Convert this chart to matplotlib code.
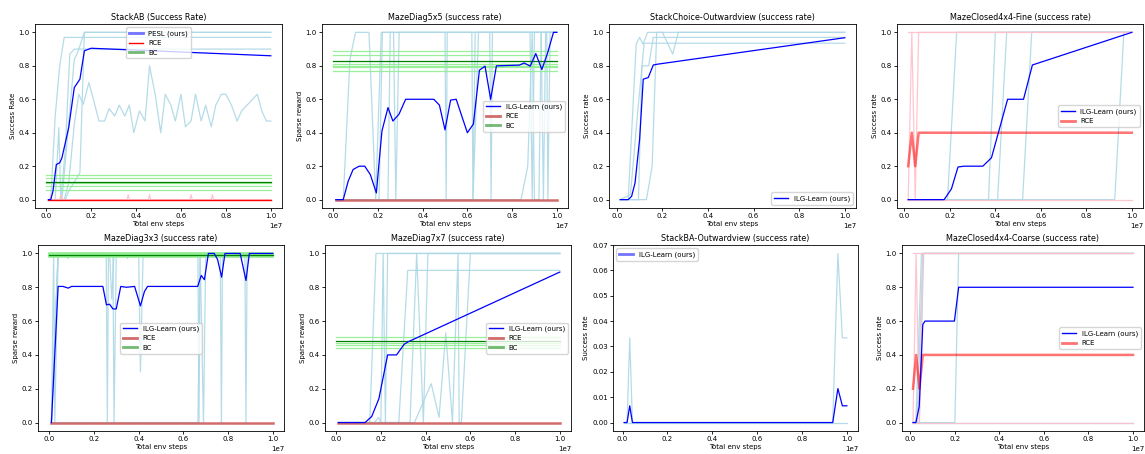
import matplotlib
matplotlib.use("Agg")
import matplotlib.pyplot as plt
from matplotlib.lines import Line2D

STEPS = 1e7  # x values below are in units of 1e7 env steps

# ---- StackAB ----
ab_mean_x = [0.01, 0.02, 0.03, 0.045, 0.06, 0.07, 0.1, 0.125, 0.15, 0.17, 0.2, 1.0]
ab_mean_y = [0, 0, 0.05, 0.21, 0.22, 0.25, 0.43, 0.67, 0.72, 0.89, 0.905, 0.86]
ab_seeds = [
    ([0.01, 0.02, 0.04, 0.06, 0.08, 1.0], [0, 0, 0.5, 0.8, 0.97, 0.97]),
    ([0.01, 0.04, 0.056, 0.065, 0.085, 0.105, 0.125, 1.0], [0, 0, 0.43, 0, 0.3, 0.87, 0.9, 0.9]),
    ([0.01, 0.07, 0.09, 0.125, 0.14, 0.17, 1.0], [0, 0, 0.3, 0.84, 0.88, 1.0, 1.0]),
    ([0.01, 0.06, 0.085, 0.1, 0.15, 0.17, 1.0], [0, 0, 0, 0.05, 0.16, 1.0, 1.0]),
    ([0.01, 0.08, 0.1, 0.125, 0.145, 0.165, 0.19, 0.21, 0.235, 0.26, 0.28, 0.305, 0.325, 0.35,
      0.37, 0.39, 0.415, 0.44, 0.46, 0.485, 0.51, 0.53, 0.555, 0.575, 0.6, 0.62, 0.645, 0.665,
      0.69, 0.71, 0.735, 0.755, 0.78, 0.8, 0.825, 0.85, 0.87, 0.94, 0.96, 0.98, 1.0],
     [0, 0, 0.1, 0.45, 0.63, 0.57, 0.70, 0.6, 0.47, 0.47, 0.545, 0.5, 0.565, 0.5,
      0.565, 0.4, 0.53, 0.47, 0.8, 0.63, 0.4, 0.63, 0.565, 0.47, 0.63, 0.435, 0.47, 0.63,
      0.47, 0.565, 0.435, 0.565, 0.63, 0.63, 0.565, 0.47, 0.53, 0.63, 0.53, 0.47, 0.47]),
]
ab_rce_x = [0.01, 1.0]
ab_rce_y = [0, 0]
ab_rce_seeds = [
    ([0.01, 0.015, 0.02, 0.025, 0.06, 0.065, 0.07, 0.36, 0.365, 0.37, 0.455, 0.46, 0.465,
      0.64, 0.645, 0.65, 0.735, 0.74, 0.745, 1.0],
     [0, 0, 0.03, 0, 0, 0.03, 0, 0, 0.03, 0, 0, 0.03, 0, 0, 0.03, 0, 0, 0.03, 0, 0]),
]
ab_bc_seeds = [0.15, 0.13, 0.1, 0.08, 0.06]
ab_bc_mean = 0.107

# ---- MazeDiag5x5 ----
d5_mean_x = [0.012, 0.045, 0.067, 0.089, 0.116, 0.141, 0.166, 0.193, 0.218, 0.245, 0.267, 0.294,
             0.324, 0.45, 0.475, 0.5, 0.525, 0.55, 0.575, 0.6, 0.627, 0.654, 0.679, 0.704, 0.73,
             0.832, 0.854, 0.881, 0.906, 0.933, 0.958, 0.985, 1.0]
d5_mean_y = [0, 0, 0.11, 0.18, 0.2, 0.2, 0.15, 0.04, 0.41, 0.55, 0.47, 0.51,
             0.6, 0.6, 0.565, 0.417, 0.595, 0.6, 0.5, 0.4, 0.452, 0.774, 0.798, 0.6, 0.8,
             0.804, 0.817, 0.798, 0.873, 0.778, 0.873, 1.0, 1.0]
d5_seeds = [
    ([0.012, 0.045, 0.075, 0.1, 0.16, 0.19, 0.215, 1.0], [0, 0, 0.84, 1, 1, 0, 1, 1]),
    ([0.012, 0.19, 0.205, 0.22, 0.225, 0.5, 0.505, 0.51, 0.93, 0.94, 0.95, 1.0],
     [0, 0, 0, 1, 1, 1, 0, 1, 1, 0, 1, 1]),
    ([0.012, 0.245, 0.255, 0.27, 0.28, 0.295, 0.62, 0.625, 0.635, 0.7, 0.706, 0.712, 1.0],
     [0, 0, 1, 1, 0, 1, 1, 0, 1, 1, 0, 1, 1]),
    ([0.012, 0.625, 0.65, 0.88, 0.89, 0.9, 0.955, 0.96, 0.97, 1.0], [0, 0, 1, 1, 0, 1, 1, 0, 1, 1]),
    ([0.012, 0.84, 0.87, 0.89, 0.9, 0.92, 0.93, 0.985, 1.0], [0, 0, 0.2, 1, 0, 0, 1, 1, 1]),
]
d5_rce_x = [0.012, 1.0]
d5_rce_y = [0, 0]
d5_bc_seeds = [0.89, 0.863, 0.81, 0.8, 0.79, 0.77]
d5_bc_mean = 0.826

# ---- StackChoice-Outwardview ----
sc_mean_x = [0.015, 0.05, 0.065, 0.08, 0.1, 0.116, 0.138, 0.16, 0.18, 1.0]
sc_mean_y = [0, 0, 0.02, 0.1, 0.36, 0.72, 0.73, 0.805, 0.81, 0.968]
sc_seeds = [
    ([0.015, 0.05, 0.085, 0.1, 0.115, 0.135, 1.0], [0, 0, 0.93, 0.97, 0.93, 1.0, 1.0]),
    ([0.015, 0.095, 0.11, 0.14, 0.16, 1.0], [0, 0, 0.8, 0.8, 0.97, 0.97]),
    ([0.015, 0.13, 0.155, 0.175, 0.2, 0.245, 0.27, 1.0], [0, 0, 0.2, 1.0, 1.0, 0.87, 1.0, 1.0]),
    ([0.015, 0.06, 0.09, 0.12, 1.0], [0, 0.03, 0.5, 0.935, 0.935]),
]

# ---- MazeClosed4x4-Fine ----
cf_mean_x = [0.017, 0.175, 0.207, 0.236, 0.262, 0.345, 0.383, 0.454, 0.524, 0.563, 1.0]
cf_mean_y = [0, 0, 0.064, 0.195, 0.2, 0.2, 0.25, 0.6, 0.6, 0.805, 1.0]
cf_seeds = [
    ([0.017, 0.19, 0.23, 1.0], [0, 0, 1, 1]),
    ([0.017, 0.37, 0.4, 1.0], [0, 0, 1, 1]),
    ([0.017, 0.41, 0.45, 1.0], [0, 0, 1, 1]),
    ([0.017, 0.52, 0.56, 1.0], [0, 0, 1, 1]),
    ([0.017, 0.925, 0.965, 1.0], [0, 0, 1, 1]),
]
cf_rce_x = [0.017, 0.033, 0.048, 0.063, 1.0]
cf_rce_y = [0.2, 0.4, 0.2, 0.4, 0.4]
cf_rce_seeds = [
    ([0.017, 1.0], [1, 1]),
    ([0.017, 0.033, 0.048, 0.063, 1.0], [0, 1, 0, 1, 1]),
    ([0.017, 1.0], [0, 0]),
]

# ---- MazeDiag3x3 ----
d3_mean_x = [0.01, 0.04, 0.062, 0.085, 0.1, 0.24, 0.256, 0.27, 0.285, 0.3, 0.32, 0.345, 0.382,
             0.408, 0.426, 0.44, 0.664, 0.68, 0.694, 0.712, 0.738, 0.753, 0.771, 0.786, 0.854,
             0.88, 0.895, 1.0]
d3_mean_y = [0, 0.805, 0.805, 0.795, 0.805, 0.805, 0.696, 0.7, 0.672, 0.672, 0.805, 0.8, 0.805,
             0.69, 0.775, 0.805, 0.805, 0.87, 0.845, 1.0, 1.0, 0.964, 0.86, 1.0, 1.0,
             0.84, 1.0, 1.0]
d3_seeds = [
    ([0.01, 0.04, 0.255, 0.26, 0.265, 1.0], [0, 1, 1, 0, 1, 1]),
    ([0.01, 0.02, 0.025, 0.04, 0.285, 0.29, 0.3, 0.4, 0.408, 0.42, 1.0],
     [0, 1, 0, 1, 1, 0, 1, 1, 0.3, 1, 1]),
    ([0.01, 0.04, 0.08, 0.085, 0.09, 0.27, 0.28, 0.29, 0.345, 0.35, 0.36, 0.765, 0.77, 0.775,
      1.0],
     [0, 1, 1, 0.97, 1, 1, 0.73, 1, 1, 0.97, 1, 1, 0, 1, 1]),
    ([0.01, 0.04, 0.665, 0.67, 0.675, 0.875, 0.88, 0.885, 1.0], [0, 1, 1, 0, 1, 1, 0, 1, 1]),
    ([0.01, 0.665, 0.675, 0.69, 0.7, 1.0], [0, 0, 1, 0, 1, 1]),
]
d3_rce_x = [0.01, 1.0]
d3_rce_y = [0, 0]
d3_bc_seeds = [1.0, 0.995, 0.99, 0.985, 0.98]
d3_bc_mean = 0.99

# ---- MazeDiag7x7 ----
d7_mean_x = [0.01, 0.129, 0.159, 0.191, 0.23, 0.27, 0.304, 0.324, 1.0]
d7_mean_y = [0, 0, 0.036, 0.141, 0.4, 0.4, 0.463, 0.479, 0.89]
d7_seeds = [
    ([0.01, 0.15, 0.178, 1.0], [0, 0, 1, 1]),
    ([0.01, 0.17, 0.19, 0.2, 0.21, 0.22, 0.23, 1.0], [0, 0, 0.03, 0, 1, 0, 1, 1]),
    ([0.01, 0.28, 0.32, 1.0], [0, 0, 0.9, 0.9]),
    ([0.01, 0.33, 0.36, 0.39, 0.41, 1.0], [0, 0, 1, 0, 1, 1]),
    ([0.01, 0.35, 0.425, 0.46, 0.49, 0.52, 0.545, 0.55, 0.56, 0.6, 1.0],
     [0, 0, 0.23, 0.03, 0.53, 0, 1, 0, 0, 1, 1]),
]
d7_rce_x = [0.01, 1.0]
d7_rce_y = [0, 0]
d7_bc_seeds = [0.503, 0.47, 0.46, 0.44]
d7_bc_mean = 0.48

# ---- StackBA-Outwardview ----
ba_mean_x = [0.007, 0.02, 0.032, 0.044, 0.937, 0.96, 0.98, 1.0]
ba_mean_y = [0, 0, 0.0066, 0, 0, 0.0134, 0.0066, 0.0066]
ba_seeds = [
    ([0.007, 0.02, 0.032, 0.044, 0.937, 0.96, 0.98, 1.0], [0, 0, 0.0334, 0, 0, 0.0667, 0.0334, 0.0334]),
    ([0.007, 1.0], [0, 0]),
]

# ---- MazeClosed4x4-Coarse ----
cc_mean_x = [0.012, 0.025, 0.04, 0.056, 0.066, 0.198, 0.217, 1.0]
cc_mean_y = [0, 0, 0.095, 0.58, 0.6, 0.6, 0.8, 0.8]
cc_seeds = [
    ([0.012, 0.025, 0.05, 1.0], [0, 0, 1, 1]),
    ([0.012, 0.03, 0.056, 1.0], [0, 0, 1, 1]),
    ([0.012, 0.04, 0.06, 1.0], [0, 0, 1, 1]),
    ([0.012, 0.2, 0.217, 1.0], [0, 0, 1, 1]),
    ([0.012, 1.0], [0, 0]),
]
cc_rce_x = [0.012, 0.026, 0.041, 0.056, 1.0]
cc_rce_y = [0.2, 0.4, 0.2, 0.4, 0.4]
cc_rce_seeds = [
    ([0.012, 1.0], [1, 1]),
    ([0.012, 0.026, 0.041, 0.056, 1.0], [0, 1, 0, 1, 1]),
    ([0.012, 1.0], [0, 0]),
]

plt.rcParams['font.size'] = 5.0
plt.rcParams['axes.titlesize'] = 5.8
plt.rcParams['axes.linewidth'] = 0.6
plt.rcParams['xtick.major.width'] = 0.6
plt.rcParams['ytick.major.width'] = 0.6
plt.rcParams['xtick.major.size'] = 2.2
plt.rcParams['ytick.major.size'] = 2.2

fig = plt.figure(figsize=(11.45, 4.54), dpi=100)

W, H = 1145.0, 454.0


def make_ax(left, top, right, bottom):
    return fig.add_axes([left / W, 1 - bottom / H, (right - left) / W, (bottom - top) / H])


def sx(xs):
    return [v * STEPS for v in xs]


def draw_seeds(ax, seeds, color='lightblue', lw=0.9, alpha=0.9):
    for xs, ys in seeds:
        ax.plot(sx(xs), ys, color=color, lw=lw, alpha=alpha)


def draw_bc(ax, levels, mean, lw=0.9):
    for v in levels:
        ax.plot([0, STEPS], [v, v], color='lightgreen', lw=lw, alpha=0.9)
    ax.plot([0, STEPS], [mean, mean], color='green', lw=0.9)


def finish(ax, title, ylabel):
    ax.set_title(title, pad=3)
    ax.set_ylabel(ylabel, labelpad=2)
    ax.set_xlabel('Total env steps', labelpad=1)
    ax.tick_params(pad=1.5)


blue_thin = Line2D([], [], color='blue', lw=1.0)
blue_thick = Line2D([], [], color='blue', lw=2.0, alpha=0.55)
red_thin = Line2D([], [], color='red', lw=1.0)
red_thick = Line2D([], [], color='red', lw=2.0, alpha=0.55)
indian_thick = Line2D([], [], color='indianred', lw=2.0, alpha=0.9)
green_thick = Line2D([], [], color='green', lw=2.0, alpha=0.55)

# panel 1
ax = make_ax(35, 24, 282, 208)
draw_seeds(ax, ab_seeds)
draw_seeds(ax, ab_rce_seeds, color='pink')
draw_bc(ax, ab_bc_seeds, ab_bc_mean)
ax.plot(sx(ab_rce_x), ab_rce_y, color='red', lw=1.0)
ax.plot(sx(ab_mean_x), ab_mean_y, color='blue', lw=0.9)
finish(ax, 'StackAB (Success Rate)', 'Success Rate')
ax.legend([blue_thick, red_thin, green_thick], ['PESL (ours)', 'RCE', 'BC'], loc='upper center')

# panel 2
ax = make_ax(322, 24, 568, 208)
draw_seeds(ax, d5_seeds)
draw_bc(ax, d5_bc_seeds, d5_bc_mean)
ax.plot(sx(d5_rce_x), d5_rce_y, color='indianred', lw=1.8, alpha=0.9)
ax.plot(sx(d5_mean_x), d5_mean_y, color='blue', lw=0.9)
finish(ax, 'MazeDiag5x5 (success rate)', 'Sparse reward')
ax.legend([blue_thin, indian_thick, green_thick], ['ILG-Learn (ours)', 'RCE', 'BC'], loc='center right')

# panel 3
ax = make_ax(609, 24, 856, 208)
draw_seeds(ax, sc_seeds)
ax.plot(sx(sc_mean_x), sc_mean_y, color='blue', lw=0.9)
finish(ax, 'StackChoice-Outwardview (success rate)', 'Success rate')
ax.legend([blue_thin], ['ILG-Learn (ours)'], loc='lower right')

# panel 4
ax = make_ax(897, 24, 1143, 208)
draw_seeds(ax, cf_seeds)
draw_seeds(ax, cf_rce_seeds, color='pink')
ax.plot(sx(cf_rce_x), cf_rce_y, color='red', lw=1.8, alpha=0.55)
ax.plot(sx(cf_mean_x), cf_mean_y, color='blue', lw=0.9)
finish(ax, 'MazeClosed4x4-Fine (success rate)', 'Success rate')
ax.legend([blue_thin, red_thick], ['ILG-Learn (ours)', 'RCE'], loc='center right')

# panel 5
ax = make_ax(38, 245, 284, 431)
draw_seeds(ax, d3_seeds)
draw_bc(ax, d3_bc_seeds, d3_bc_mean, lw=1.3)
ax.plot(sx(d3_rce_x), d3_rce_y, color='indianred', lw=1.8, alpha=0.9)
ax.plot(sx(d3_mean_x), d3_mean_y, color='blue', lw=0.9)
finish(ax, 'MazeDiag3x3 (success rate)', 'Sparse reward')
ax.legend([blue_thin, indian_thick, green_thick], ['ILG-Learn (ours)', 'RCE', 'BC'], loc='center')

# panel 6
ax = make_ax(325, 245, 571, 431)
draw_seeds(ax, d7_seeds)
draw_bc(ax, d7_bc_seeds, d7_bc_mean)
ax.plot(sx(d7_rce_x), d7_rce_y, color='indianred', lw=1.8, alpha=0.9)
ax.plot(sx(d7_mean_x), d7_mean_y, color='blue', lw=0.9)
finish(ax, 'MazeDiag7x7 (success rate)', 'Sparse reward')
ax.legend([blue_thin, indian_thick, green_thick], ['ILG-Learn (ours)', 'RCE', 'BC'], loc='center right')

# panel 7
ax = make_ax(613, 245, 858, 431)
draw_seeds(ax, ba_seeds)
ax.plot(sx(ba_mean_x), ba_mean_y, color='blue', lw=0.9)
finish(ax, 'StackBA-Outwardview (success rate)', 'Success rate')
ax.legend([blue_thick], ['ILG-Learn (ours)'], loc='upper left')

# panel 8
ax = make_ax(902, 245, 1144, 431)
draw_seeds(ax, cc_seeds)
draw_seeds(ax, cc_rce_seeds, color='pink')
ax.plot(sx(cc_rce_x), cc_rce_y, color='red', lw=1.8, alpha=0.55)
ax.plot(sx(cc_mean_x), cc_mean_y, color='blue', lw=0.9)
finish(ax, 'MazeClosed4x4-Coarse (success rate)', 'Success rate')
ax.legend([blue_thin, red_thick], ['ILG-Learn (ours)', 'RCE'], loc='center right')

fig.savefig('out.png', dpi=100)
